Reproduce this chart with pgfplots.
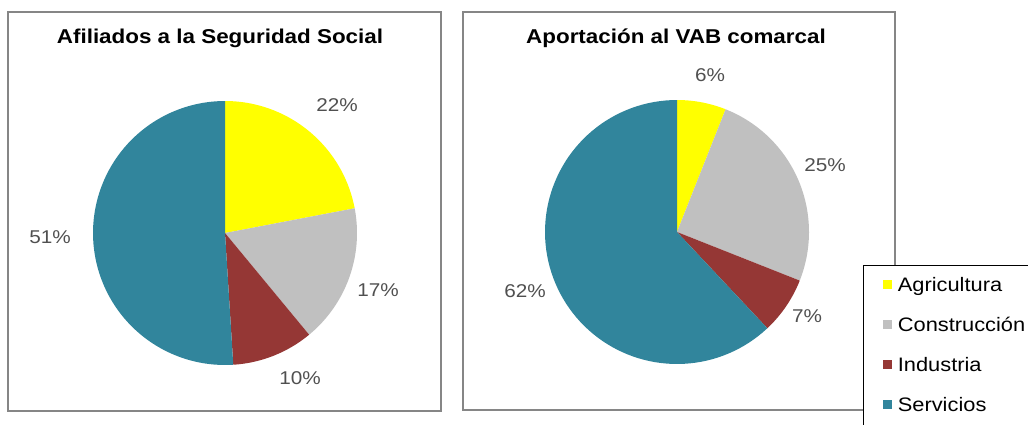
\documentclass[border=0pt]{standalone}
\usepackage{fontspec}
\setmainfont[FakeStretch=1.12]{Liberation Sans}
\usepackage{pgfplots}
\pgfplotsset{compat=1.18}
\definecolor{agri}{HTML}{FFFF00}
\definecolor{cons}{HTML}{C0C0C0}
\definecolor{indu}{HTML}{953735}
\definecolor{serv}{HTML}{31859C}
\definecolor{lbl}{HTML}{505050}
\definecolor{frame}{HTML}{868686}
% slice: start percent, end percent (cumulative), colour
\newcommand{\slice}[3]{%
  \pgfmathsetmacro{\aA}{90-3.6*#2}%
  \pgfmathsetmacro{\aB}{90-3.6*#1}%
  \edef\tmp{\noexpand\addplot[fill=#3, draw=none, forget plot, domain=\aA:\aB, samples=90]
    ({132*cos(x)},{132*sin(x)}) -- (axis cs:0,0) -- cycle;}%
  \tmp
}
\pgfplotsset{pie/.style={scale only axis, clip=false, xtick=\empty, ytick=\empty,
  axis line style={draw=frame, line width=1.3pt}, anchor=south west}}
\newcommand{\pct}{\fontsize{18.5}{20}\selectfont\color{lbl}}
\newcommand{\ttl}{\fontsize{20}{22}\selectfont\bfseries}
\begin{document}
\begin{tikzpicture}[x=1pt,y=1pt]
\path[use as bounding box] (0,0) rectangle (1028,424);
\clip (0,0) rectangle (1028,424);
% Left pie: Afiliados a la Seguridad Social (22, 17, 10, 51)
\begin{axis}[pie, at={(8pt,13pt)}, width=433pt, height=399pt,
  xmin=-217, xmax=216, ymin=-178, ymax=221]
  \slice{0}{22}{agri}
  \slice{22}{39}{cons}
  \slice{39}{49}{indu}
  \slice{49}{100}{serv}
  \node at (axis cs:-5,195) {\ttl Afiliados a la Seguridad Social};
  \node at (axis cs:112,128) {\pct 22\%};
  \node at (axis cs:153,-57) {\pct 17\%};
  \node at (axis cs:75,-145) {\pct 10\%};
  \node at (axis cs:-175,-4) {\pct 51\%};
\end{axis}
% Right pie: Aportacion al VAB comarcal (6, 25, 7, 62)
\begin{axis}[pie, at={(463pt,14pt)}, width=432pt, height=398pt,
  xmin=-214, xmax=218, ymin=-178, ymax=220,
  legend cell align=left,
  legend image code/.code={\fill[#1] (0pt,3pt) rectangle (8pt,11pt);},
  legend style={at={(0.926,0.364)}, anchor=north west, draw=black, line width=1.2pt,
    fill=white, inner xsep=19pt, inner ysep=12pt, row sep=22pt, column sep=6pt,
    font=\fontsize{19.5}{22}\selectfont,
    nodes={inner sep=0pt, text height=14pt, text depth=4pt, anchor=base west}}]
  \slice{0}{6}{agri}
  \slice{6}{31}{cons}
  \slice{31}{38}{indu}
  \slice{38}{100}{serv}
  \node at (axis cs:-1,194) {\ttl Aportación al VAB comarcal};
  \node at (axis cs:33,157) {\pct 6\%};
  \node at (axis cs:148,67) {\pct 25\%};
  \node at (axis cs:130,-84) {\pct 7\%};
  \node at (axis cs:-152,-59) {\pct 62\%};
  \addlegendimage{agri}\addlegendentry{Agricultura}
  \addlegendimage{cons}\addlegendentry{Construcción}
  \addlegendimage{indu}\addlegendentry{Industria}
  \addlegendimage{serv}\addlegendentry{Servicios}
\end{axis}
\end{tikzpicture}
\end{document}
